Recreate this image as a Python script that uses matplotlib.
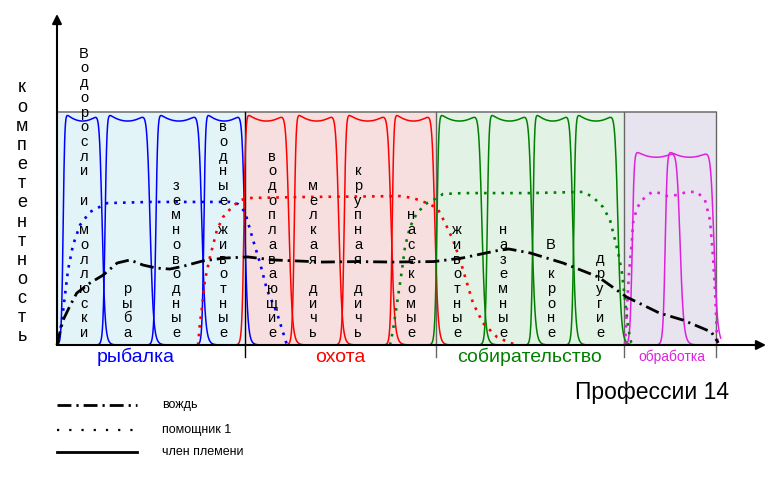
import numpy as np
import matplotlib
matplotlib.use("Agg")
import matplotlib.pyplot as plt

plt.rcParams['font.family'] = ['Liberation Sans', 'DejaVu Sans']

# группы профессий
groups = ['рыбалка', 'охота', 'собирательство', 'обработка']
group_colors = ['#0000ff', '#ff0000', '#008000', '#dd22dd']
group_fill = ['#e3f4f9', '#f7dfdf', '#e2f2e4', '#e7e4ef']
group_edges = [0, 4.0, 8.05, 12.05, 14.0]

# навыки (член племени): левая/правая граница и уровень
skill_names = ['Водоросли и моллюски', 'рыба', 'земноводные', 'водные животные',
               'водоплавающие', 'мелкая дичь', 'крупная дичь', 'насекомые',
               'животные', 'наземные', 'В кроне', 'другие', '', '']
skill_group = [0, 0, 0, 0, 1, 1, 1, 1, 2, 2, 2, 2, 3, 3]
skill_left = [0.13, 1.02, 2.10, 3.12, 3.97, 5.04, 6.10, 7.12,
              8.07, 9.14, 10.11, 10.98, 12.22, 12.92]
skill_right = [0.96, 1.98, 3.08, 3.99, 4.93, 5.99, 7.10, 8.03,
               9.03, 10.09, 10.96, 11.92, 13.24, 13.96]
skill_level = [0.99] * 12 + [0.83, 0.83]

# помощник 1 (по группам)
helper_x = [
    [0, 0.042, 0.106, 0.170, 0.234, 0.340, 0.489, 0.701, 1.062, 1.976, 3.675,
     3.845, 3.994, 4.164, 4.313, 4.462, 4.674, 4.886],
    [2.996, 3.038, 3.081, 3.144, 3.250, 3.399, 3.527, 3.718, 3.888, 4.100, 5.163,
     7.287, 7.563, 7.861, 8.073, 8.137, 8.286, 8.413, 8.562, 8.710, 8.838, 9.050,
     9.348, 9.624, 9.794],
    [7.075, 7.138, 7.244, 7.329, 7.393, 7.499, 7.648, 7.861, 8.073, 8.201, 8.625,
     10.049, 11.175, 11.387, 11.600, 11.749, 11.855, 11.940, 12.003, 12.067,
     12.131, 12.195, 12.237],
    [12.067, 12.110, 12.152, 12.216, 12.237, 12.322, 12.428, 12.641, 12.811,
     12.981, 13.172, 13.385, 13.597, 13.767, 13.873, 13.937, 13.979, 14.022, 14.043],
]
helper_y = [
    [0, 0.030, 0.107, 0.215, 0.322, 0.429, 0.515, 0.571, 0.609, 0.614, 0.614,
     0.605, 0.571, 0.451, 0.352, 0.236, 0.137, 0.0],
    [0, 0.094, 0.163, 0.279, 0.378, 0.494, 0.549, 0.592, 0.622, 0.631, 0.635,
     0.639, 0.631, 0.609, 0.588, 0.567, 0.506, 0.451, 0.365, 0.266, 0.180, 0.094,
     0.034, 0.009, 0],
    [0, 0.064, 0.206, 0.322, 0.421, 0.506, 0.567, 0.609, 0.631, 0.648, 0.652,
     0.652, 0.657, 0.635, 0.592, 0.536, 0.451, 0.378, 0.309, 0.193, 0.077, 0.013, 0],
    [0, 0.163, 0.309, 0.451, 0.524, 0.588, 0.622, 0.657, 0.652, 0.639, 0.644,
     0.657, 0.657, 0.622, 0.536, 0.378, 0.236, 0.034, 0],
]

# вождь
leader_x = [0, 0.05, 0.13, 0.28, 0.42, 0.70, 0.98, 1.28, 1.55, 1.83, 2.12, 2.40,
            2.70, 3.10, 3.55, 4.05, 4.6, 5.65, 6.4, 7.1, 8.0, 8.6, 9.35, 9.6,
            10.05, 10.75, 11.5, 12.1, 12.8, 13.3, 13.9, 14.05]
leader_y = [0, 0.045, 0.107, 0.17, 0.223, 0.266, 0.30, 0.352, 0.365, 0.343, 0.330,
            0.326, 0.339, 0.361, 0.373, 0.378, 0.365, 0.356, 0.358, 0.356, 0.358,
            0.373, 0.405, 0.412, 0.395, 0.352, 0.292, 0.206, 0.137, 0.107, 0.056,
            0.009]

legend_labels = ['вождь', 'помощник 1', 'член племени']

# пиксели -> единицы графика
SX, SY = 47.07, 233.0


def fx(px):
    return (px - 57) / SX


def fy(py):
    return (345 - py) / SY


def plateau(x, a, b, h):
    c = (a + b) / 2
    w = (b - a) / 2
    u = (x - c) / w
    n = np.where(u < 0, 12, 7)
    base = 1 / (1 + np.abs(u) ** (2 * n))
    return h * base * (1 + 0.045 * u ** 2) / 1.03


fig = plt.figure(figsize=(7.77, 5.0), dpi=100)
ax = fig.add_axes([0, 0, 1, 1])
ax.set_xlim(fx(0), fx(777))
ax.set_ylim(fy(500), fy(0))
ax.axis('off')

# фон групп
for i in range(4):
    ax.fill_between([group_edges[i], group_edges[i + 1]], 0, 1,
                    color=group_fill[i], lw=0, zorder=0)
ax.plot([0, group_edges[-1]], [1, 1], color='#777777', lw=1.2, zorder=1)
for i, e in enumerate(group_edges[1:]):
    ax.plot([e, e], [fy(357), 1], color='black' if i == 0 else '#666666',
            lw=1.0, zorder=1)

# член племени
for a, b, h, g in zip(skill_left, skill_right, skill_level, skill_group):
    xs = np.linspace(max(a - 0.35, 0), min(b + 0.35, 14.1), 300)
    ax.plot(xs, plateau(xs, a, b, h), color=group_colors[g], lw=1.1, zorder=3)

# помощник 1
for g in range(4):
    ax.plot(helper_x[g], helper_y[g], color=group_colors[g], lw=1.9,
            linestyle=(0, (1, 2.3)), zorder=4)

# вождь
ax.plot(leader_x, leader_y, color='black', lw=2.0,
        dashes=(5, 1.8, 0.8, 1.8), zorder=5)

# подписи навыков (вертикально по буквам)
label_x = [84, 127, 176, 223, 272, 313, 358, 411, 457, 503, 551, 600]
step = 14.7
for name, px in zip(skill_names, label_x):
    n = len(name)
    for k, ch in enumerate(name):
        py = 333 - (n - 1 - k) * step
        ax.text(fx(px), fy(py), ch, ha='center', va='center', fontsize=10.5,
                color='black', zorder=6)

# подпись оси Y
ylab = 'компетентность'
for k, ch in enumerate(ylab):
    ax.text(fx(22), fy(88 + k * 19.15), ch, ha='center', va='center',
            fontsize=13, color='black')

# названия групп
group_label_px = [136, 340, 530, 672]
group_label_fs = [14, 14, 14, 10]
for name, px, fs, col in zip(groups, group_label_px, group_label_fs, group_colors):
    ax.text(fx(px), fy(357), name, ha='center', va='center', fontsize=fs, color=col)

ax.text(fx(652), fy(392), 'Профессии 14', ha='center', va='center', fontsize=16.5)

# оси
ax.annotate('', xy=(fx(766), 0), xytext=(0, 0),
            arrowprops=dict(arrowstyle='-|>', color='black', lw=1.5,
                            mutation_scale=14, shrinkA=0, shrinkB=0), zorder=7)
ax.annotate('', xy=(0, fy(14)), xytext=(0, 0),
            arrowprops=dict(arrowstyle='-|>', color='black', lw=1.5,
                            mutation_scale=14, shrinkA=0, shrinkB=0), zorder=7)

# легенда
leg_py = [405, 430, 452]
leg_styles = [dict(dashes=(5, 1.8, 0.8, 1.8), lw=2.0),
              dict(linestyle=(0, (1, 4.5)), lw=1.6),
              dict(linestyle='-', lw=2.0)]
for lab, py, st in zip(legend_labels, leg_py, leg_styles):
    ax.plot([fx(57), fx(137)], [fy(py), fy(py)], color='black', **st)
    ax.text(fx(162), fy(py), lab, ha='left', va='center', fontsize=9)

fig.savefig('out.png', dpi=100)
